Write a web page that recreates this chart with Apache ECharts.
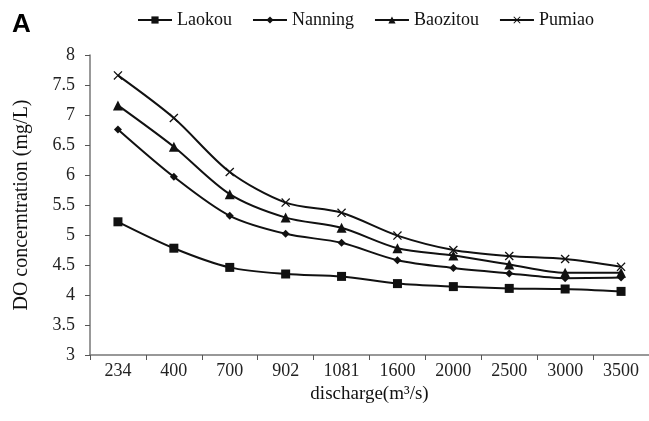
<!DOCTYPE html>
<html>
<head>
<meta charset="utf-8">
<script src="https://cdn.jsdelivr.net/npm/echarts@6/dist/echarts.min.js"></script>
<style>html,body{margin:0;padding:0;background:#fff}#c{width:649px;height:421px}</style>
</head>
<body>
<div id="c"></div>
<script>
var categories = ['234','400','700','902','1081','1600','2000','2500','3000','3500'];
var laokou   = [5.22, 4.78, 4.46, 4.35, 4.31, 4.19, 4.14, 4.11, 4.10, 4.06];
var nanning  = [6.76, 5.97, 5.32, 5.02, 4.87, 4.58, 4.45, 4.36, 4.28, 4.29];
var baozitou = [7.16, 6.47, 5.68, 5.29, 5.12, 4.78, 4.66, 4.51, 4.37, 4.37];
var pumiao   = [7.66, 6.95, 6.05, 5.54, 5.37, 4.99, 4.75, 4.65, 4.60, 4.47];
var yTicks = ['3','3.5','4','4.5','5','5.5','6','6.5','7','7.5','8'];

var serif = 'Liberation Serif';
var xPath = 'path://M0,1L1,0L5,4L9,0L10,1L6,5L10,9L9,10L5,6L1,10L0,9L4,5Z';
function mk(name, data, symbol, size) {
  return {
    name: name, type: 'line', data: data, smooth: 0.3,
    symbol: symbol, symbolSize: size, showSymbol: true,
    lineStyle: {color: '#111', width: 2},
    itemStyle: {color: '#111'},
    emphasis: {disabled: true}
  };
}
var chart = echarts.init(document.getElementById('c'));
chart.setOption({
  animation: false,
  backgroundColor: '#fff',
  graphic: [{type: 'text', left: 12, top: 12, style: {text: 'A', font: 'bold 26px "Liberation Sans"', fill: '#000'}}],
  legend: {
    left: 132, top: 6, itemWidth: 34, itemHeight: 9, itemGap: 20,
    textStyle: {fontFamily: serif, fontSize: 18, color: '#111'},
    data: ['Laokou','Nanning','Baozitou','Pumiao']
  },
  grid: {left: 90, top: 55, width: 562, height: 300, containLabel: false},
  xAxis: {
    type: 'category', data: categories, boundaryGap: true,
    name: 'discharge(m\u00b3/s)', nameLocation: 'middle', nameGap: 27,
    nameTextStyle: {fontFamily: serif, fontSize: 19, color: '#111'},
    axisLine: {lineStyle: {color: '#777', width: 1.5}},
    axisTick: {show: true, inside: false, length: 5, alignWithLabel: false, lineStyle: {color: '#555'}},
    axisLabel: {fontFamily: serif, fontSize: 18, color: '#222', margin: 7}
  },
  yAxis: {
    type: 'value', min: 3, max: 8, interval: 0.5,
    name: 'DO concerntration (mg/L)', nameLocation: 'middle', nameGap: 58, nameRotate: 90,
    nameTextStyle: {fontFamily: serif, fontSize: 20, color: '#111'},
    axisLine: {show: true, lineStyle: {color: '#777', width: 1.5}},
    axisTick: {show: true, inside: false, length: 5, lineStyle: {color: '#555'}},
    splitLine: {show: false},
    axisLabel: {fontFamily: serif, fontSize: 18, color: '#222', margin: 15,
      formatter: function (v) { var s = String(Math.round(v * 10) / 10); return yTicks.indexOf(s) >= 0 ? s : ''; }}
  },
  series: [
    mk('Laokou', laokou, 'rect', 9),
    mk('Nanning', nanning, 'diamond', 8),
    mk('Baozitou', baozitou, 'triangle', 10),
    mk('Pumiao', pumiao, xPath, 9)
  ]
});
</script>
</body>
</html>
